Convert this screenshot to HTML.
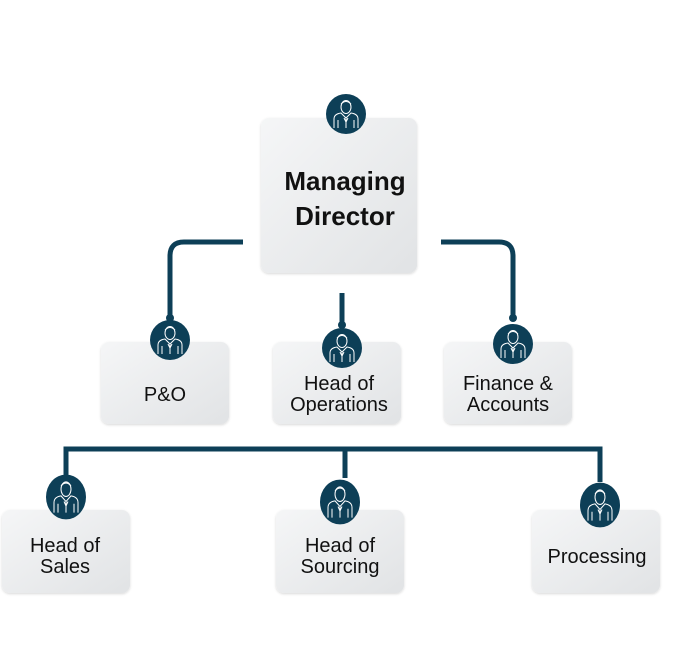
<!DOCTYPE html>
<html><head><meta charset="utf-8"><style>
html,body{margin:0;padding:0;background:#fff;}
svg{display:block;}
text{font-family:"Liberation Sans",sans-serif;fill:#111;}
</style></head><body>
<svg width="675" height="665" viewBox="0 0 675 665" xmlns="http://www.w3.org/2000/svg">
<defs>
<linearGradient id="g" x1="0" y1="0" x2="1" y2="1">
<stop offset="0" stop-color="#f5f6f7"/><stop offset="1" stop-color="#e1e3e5"/>
</linearGradient>
<filter id="s" x="-10%" y="-10%" width="120%" height="120%"><feDropShadow dx="0" dy="1" stdDeviation="1.2" flood-color="#000" flood-opacity="0.15"/></filter>
<g id="ic">
<circle r="20" fill="#0d3f57"/>
<g fill="none" stroke="#fff" stroke-width="1">
<ellipse cx="0" cy="-7" rx="5" ry="6.5"/>
<path d="M-5,-10 Q0,-15 5,-10"/>
<path d="M-12,14 V5 Q-12,0 -5,-1 L0,4 L5,-1 Q12,0 12,5 V14"/>
<path d="M0,4 V14 M-2,4 L0,8 L2,4 M-8,6 V14 M8,6 V14"/>
</g>
</g>
</defs>
<!-- connectors -->
<g fill="none" stroke="#0d3f57" stroke-width="5">
<path d="M243,242 H184 Q170,242 170,256 V318"/>
<path d="M342,293 V325"/>
<path d="M441,242 H499 Q513,242 513,256 V318"/>
<path d="M66,478 V449 H600 V482"/>
<path d="M345,449 V478"/>
</g>
<circle cx="170" cy="318" r="4" fill="#0d3f57"/>
<circle cx="513" cy="318" r="4" fill="#0d3f57"/>
<circle cx="342" cy="325" r="4" fill="#0d3f57"/>
<!-- boxes -->
<g fill="url(#g)" filter="url(#s)">
<rect x="261" y="118" width="156" height="155" rx="8"/>
<rect x="101" y="342" width="128" height="82" rx="8"/>
<rect x="273" y="342" width="128" height="82" rx="8"/>
<rect x="444" y="342" width="128" height="82" rx="8"/>
<rect x="2" y="510" width="128" height="83" rx="8"/>
<rect x="276" y="510" width="128" height="83" rx="8"/>
<rect x="532" y="510" width="128" height="83" rx="8"/>
</g>
<use href="#ic" x="346" y="114"/>
<use href="#ic" x="170" y="340"/>
<use href="#ic" x="342" y="348"/>
<use href="#ic" x="513" y="344"/>
<use href="#ic" transform="translate(66,497) scale(1,1.12)"/>
<use href="#ic" transform="translate(340,502) scale(1,1.12)"/>
<use href="#ic" transform="translate(600,505) scale(1,1.12)"/>
<g text-anchor="middle">
<text x="345" y="190" font-size="26" font-weight="bold">Managing</text>
<text x="345" y="225" font-size="26" font-weight="bold">Director</text>
<text x="165" y="401" font-size="20">P&amp;O</text>
<text x="339" y="390" font-size="20">Head of</text>
<text x="339" y="411" font-size="20">Operations</text>
<text x="508" y="390" font-size="20">Finance &amp;</text>
<text x="508" y="411" font-size="20">Accounts</text>
<text x="65" y="552" font-size="20">Head of</text>
<text x="65" y="573" font-size="20">Sales</text>
<text x="340" y="552" font-size="20">Head of</text>
<text x="340" y="573" font-size="20">Sourcing</text>
<text x="597" y="563" font-size="20">Processing</text>
</g>
</svg>
</body></html>
